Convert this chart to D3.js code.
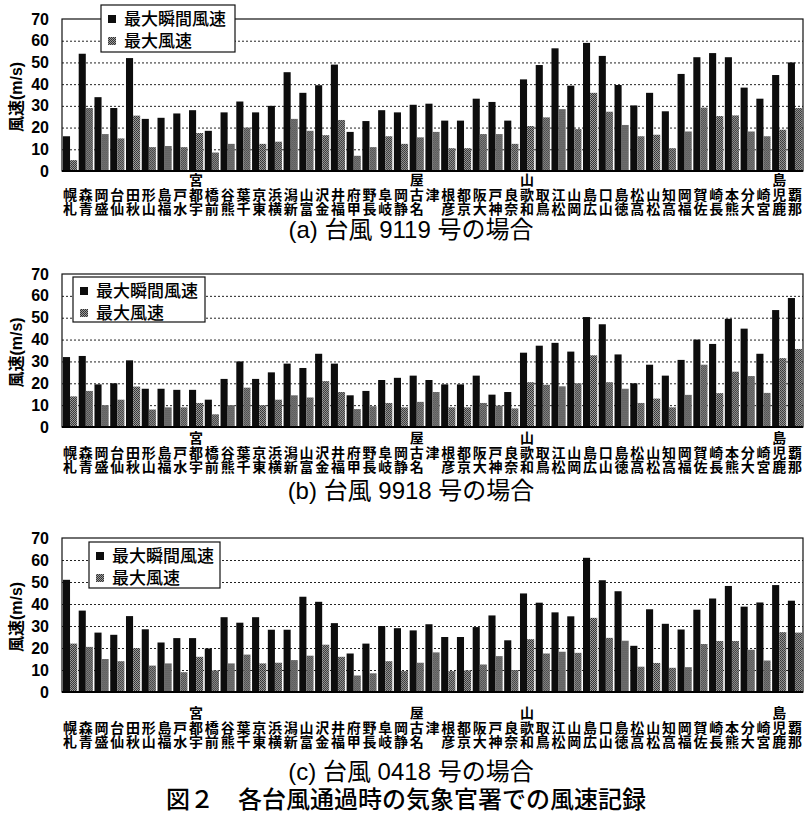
<!DOCTYPE html>
<html>
<head>
<meta charset="utf-8">
<script src="https://cdn.jsdelivr.net/npm/d3@7"></script>
<style>
  body { margin: 0; background: #fff; }
  svg { display: block; }
</style>
</head>
<body>
<script>
// Observatories (west-to-east ordering used in the figure)
const cities = ["札幌","青森","盛岡","仙台","秋田","山形","福島","水戸","宇都宮","前橋",
  "熊谷","千葉","東京","横浜","新潟","富山","金沢","福井","甲府","長野",
  "岐阜","静岡","名古屋","津","彦根","京都","大阪","神戸","奈良","和歌山",
  "鳥取","松江","岡山","広島","山口","徳島","高松","松山","高知","福岡",
  "佐賀","長崎","熊本","大分","宮崎","鹿児島","那覇"];

// Typhoon 9119 (m/s)
const gust9119 = [16,54,34,29,52,24,24.5,26.5,28,18.5,27,32,27,30,45.5,36,39.5,49,18,23,
  28,27,30.5,31,23.2,23.2,33.3,31.8,23.2,42.2,48.8,56.5,39.3,59,53,39.6,30.2,36,27.5,44.7,
  52.4,54.3,52.4,38.4,33.3,44.2,50];
const mean9119 = [5,29,17,15,25.5,11,11.5,11,17.5,8.5,12.5,20,12.5,13.5,24,18.5,16.5,23.5,7,11,
  16,12.5,15.5,18,10.5,10.5,17,17,12.5,20.7,24.7,28.5,19.3,36,27.3,21.2,16,16.7,10.5,18.2,
  29.2,25.3,25.6,18.2,16,19,29];

// Typhoon 9918 (m/s)
const gust9918 = [32,32.5,19.5,20,30.5,17.5,17.5,17,17,12.5,22,30,22,25,29,27,33.5,29,14.5,16.5,
  21.5,22.5,23.5,21.5,19.5,19.5,23.5,14.8,16,34,37.2,38.5,34.5,50.3,47,33.2,20,28.5,23.5,30.7,
  40,38,49.5,45,33.5,53.5,59];
const mean9918 = [14,16.5,10,12.5,18.5,8,9,9,11,5.8,10,18,10,12.5,14.5,13.5,21,16,8.2,9.5,
  11,9,11.5,16,9,9,11,9.8,8.5,20.5,19.3,18.6,20,32.8,20.5,17.5,11,13,9,14.7,
  28.5,15.5,25.3,23.3,15.6,31.5,35.7];

// Typhoon 0418 (m/s)
const gust0418 = [51,37,27,26,34.5,28.5,22.5,24.5,24.5,19.8,34,31.5,34,28.3,28.3,43.3,41,31.3,17.5,22,
  30,29,28,30.8,25,25,29.5,34.8,23.5,44.8,40.6,36.2,34.4,61,50.8,45.8,21,37.6,31,28.4,
  37.4,42.5,48.2,38.8,40.7,48.6,41.5];
const mean0418 = [22,20.5,15,14,20,12,13,9,16,9.8,13,17,13,13.3,14.5,16.5,21.5,16,7.5,8.5,
  14,9.5,13.3,18,9.5,9.8,12.5,16.3,10,24,17.5,18.3,17.8,33.7,24.6,23.3,11.5,13.2,11,11.3,
  21.8,23.2,23.2,19.2,14.3,27.2,27];

const seriesNames = ["最大瞬間風速", "最大風速"];
const yTicks = [0, 10, 20, 30, 40, 50, 60, 70];
const yTitle = "風速(m/s)";
const captions = ["(a) 台風 9119 号の場合", "(b) 台風 9918 号の場合", "(c) 台風 0418 号の場合"];
const figTitle = "図２　各台風通過時の気象官署での風速記録";

// ---- layout ----
const W = 806, H = 815;
const left = 62, right = 803;
const latin = "'Liberation Sans', Arial, 'Noto Sans CJK JP', sans-serif";
const cjk = "'Noto Sans CJK JP', 'Liberation Sans', sans-serif";

const panels = [
  { gust: gust9119, mean: mean9119, top: 19,  bottom: 171, legend: { x: 101, y: 5,   w: 134, h: 47 }, labelBase: 214, capY: 238 },
  { gust: gust9918, mean: mean9918, top: 274, bottom: 427, legend: { x: 73,  y: 277, w: 132, h: 45 }, labelBase: 472, capY: 499 },
  { gust: gust0418, mean: mean0418, top: 538, bottom: 692, legend: { x: 89,  y: 542, w: 131, h: 46 }, labelBase: 747, capY: 780 }
];

// single-character names sit one row higher in the label stack
const labelLift = { "津": 1 };

const svg = d3.select("body").append("svg").attr("width", W).attr("height", H);

// fine halftone fill for the mean wind bars
const pat = svg.append("defs").append("pattern")
  .attr("id", "stipple").attr("patternUnits", "userSpaceOnUse")
  .attr("width", 2).attr("height", 2);
pat.append("rect").attr("width", 2).attr("height", 2).attr("fill", "#9c9c9c");
pat.append("rect").attr("x", 0).attr("y", 0).attr("width", 1).attr("height", 1).attr("fill", "#2e2e2e");
pat.append("rect").attr("x", 1).attr("y", 1).attr("width", 1).attr("height", 1).attr("fill", "#3a3a3a");

const x0 = d3.scaleBand().domain(cities).range([left, right]).paddingInner(0.1).paddingOuter(0.06);
const x1 = d3.scaleBand().domain([0, 1]).range([0, x0.bandwidth()]);
const fills = ["#0d0d0d", "url(#stipple)"];

panels.forEach((p, pi) => {
  const y = d3.scaleLinear().domain([0, 70]).range([p.bottom, p.top]);
  const g = svg.append("g");

  // dotted gridlines
  g.append("g")
    .attr("transform", `translate(${left},0)`)
    .call(d3.axisLeft(y).tickValues(yTicks.filter(v => v > 0 && v < 70))
      .tickSize(-(right - left)).tickFormat(""))
    .call(s => {
      s.select(".domain").remove();
      s.selectAll("line").attr("stroke", "#222").attr("stroke-width", 1)
        .attr("stroke-dasharray", "2,2");
    });

  // bars
  const rows = cities.map((c, i) => ({ city: c, vals: [p.gust[i], p.mean[i]] }));
  const grp = g.append("g").selectAll("g").data(rows).join("g")
    .attr("transform", d => `translate(${x0(d.city)},0)`);
  grp.selectAll("rect").data(d => d.vals.map((v, k) => ({ k, v }))).join("rect")
    .attr("x", d => x1(d.k))
    .attr("width", x1.bandwidth())
    .attr("y", d => y(d.v))
    .attr("height", d => y(0) - y(d.v))
    .attr("fill", d => fills[d.k]);

  // plot frame
  g.append("rect")
    .attr("x", left).attr("y", y(70))
    .attr("width", right - left).attr("height", y(0) - y(70))
    .attr("fill", "none").attr("stroke", "#111").attr("stroke-width", 1.2);
  g.append("line")
    .attr("x1", left).attr("x2", right).attr("y1", y(0)).attr("y2", y(0))
    .attr("stroke", "#000").attr("stroke-width", 2);

  // y tick labels
  g.append("g")
    .attr("transform", `translate(${left},0)`)
    .call(d3.axisLeft(y).tickValues(yTicks).tickSize(0).tickPadding(13))
    .call(s => {
      s.select(".domain").remove();
      s.selectAll("text").attr("font-family", latin).attr("font-weight", "bold")
        .attr("font-size", 16).attr("fill", "#000");
    });

  // y axis title
  g.append("text")
    .attr("transform", `translate(22,${(y(0) + y(70)) / 2 + 2}) rotate(-90)`)
    .attr("text-anchor", "middle")
    .attr("font-family", latin).attr("font-size", 16).attr("font-weight", "bold")
    .text(yTitle);

  // category labels: characters stacked upright, read bottom to top
  const step = 14.5;
  g.append("g")
    .attr("transform", `translate(0,${p.labelBase})`)
    .call(d3.axisBottom(x0).tickSize(0).tickFormat(""))
    .call(s => {
      s.select(".domain").remove();
      s.selectAll(".tick text").remove();
      s.selectAll(".tick").each(function(c) {
        const lift = labelLift[c] || 0;
        d3.select(this).selectAll("text.ch").data(Array.from(c)).join("text")
          .attr("class", "ch")
          .attr("x", 0)
          .attr("y", (ch, k) => -(k + lift) * step)
          .attr("font-family", cjk).attr("font-size", 14).attr("font-weight", "bold")
          .attr("fill", "#000").attr("text-anchor", "middle")
          .text(ch => ch);
      });
    });

  // legend
  const L = p.legend;
  const lg = g.append("g").attr("transform", `translate(${L.x},${L.y})`);
  lg.append("rect").attr("width", L.w).attr("height", L.h)
    .attr("fill", "#fff").attr("stroke", "#111").attr("stroke-width", 1.2);
  seriesNames.forEach((name, k) => {
    const cy = 14 + k * 22;
    lg.append("rect").attr("x", 7).attr("y", cy - 4).attr("width", 8).attr("height", 8)
      .attr("fill", fills[k]);
    lg.append("text").attr("x", 23).attr("y", cy + 6)
      .attr("font-family", cjk).attr("font-size", 17).attr("font-weight", 500)
      .text(name);
  });

  // panel caption
  g.append("text")
    .attr("x", 411).attr("y", p.capY).attr("text-anchor", "middle")
    .attr("font-family", latin).attr("font-size", 24)
    .text(captions[pi]);
});

// figure title
svg.append("text")
  .attr("x", 406).attr("y", 808).attr("text-anchor", "middle")
  .attr("font-family", cjk).attr("font-size", 24).attr("font-weight", 500)
  .text(figTitle);
</script>
</body>
</html>
